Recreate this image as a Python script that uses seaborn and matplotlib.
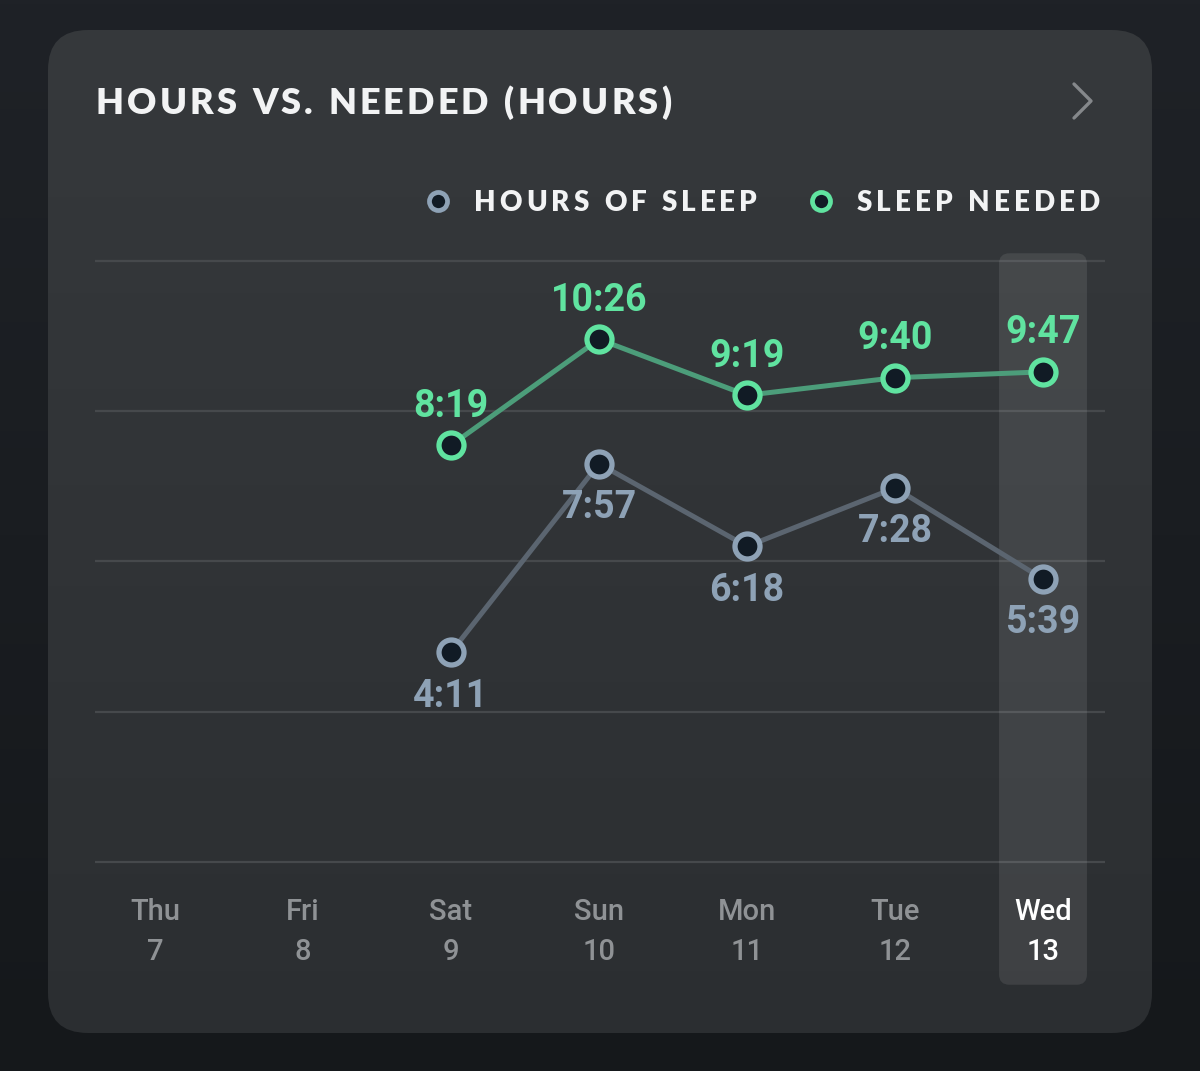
import numpy as np
import pandas as pd
import seaborn as sns
import matplotlib.pyplot as plt
from matplotlib.patches import FancyBboxPatch
from matplotlib.font_manager import FontProperties

# Chart data
days = ["Thu", "Fri", "Sat", "Sun", "Mon", "Tue", "Wed"]
dates = ["7", "8", "9", "10", "11", "12", "13"]
logged_days = ["Sat", "Sun", "Mon", "Tue", "Wed"]
hours_of_sleep = ["4:11", "7:57", "6:18", "7:28", "5:39"]
sleep_needed = ["8:19", "10:26", "9:19", "9:40", "9:47"]
y_ticks = [0, 3, 6, 9, 12]
selected_day = "Wed"

W, H, DPI = 1200, 1071, 100

# Colours
GREEN = "#60e3a0"
GREEN_LINE = "#4c9d7a"
GREY = "#8ea2b6"
GREY_LINE = "#5b6570"
DOT_FACE = "#111b25"
GRID = "#46494c"


def to_hours(s):
    h, m = s.split(":")
    return int(h) + int(m) / 60


df = pd.DataFrame({
    "pos": [days.index(d) for d in logged_days] * 2,
    "label": hours_of_sleep + sleep_needed,
    "series": ["sleep"] * len(logged_days) + ["needed"] * len(logged_days),
})
df["hours"] = df["label"].map(to_hours)

sns.set_style("white")
plt.rcParams["font.family"] = ["Roboto", "DejaVu Sans"]

fig = plt.figure(figsize=(W / DPI, H / DPI), dpi=DPI)
fig.patch.set_facecolor("#1a1d21")

# background layer in pixel coordinates
bg = fig.add_axes([0, 0, 1, 1], zorder=-5)
bg.set_xlim(0, W)
bg.set_ylim(H, 0)
bg.axis("off")

outer = np.linspace(0, 1, 256).reshape(-1, 1)
outer_cmap = sns.blend_palette(["#1f2227", "#15181b"], as_cmap=True)
bg.imshow(outer, cmap=outer_cmap, extent=(0, W, H, 0), aspect="auto")

card = FancyBboxPatch((48, 30), 1104, 1003, boxstyle="round,pad=0,rounding_size=40",
                      facecolor="none", edgecolor="none", transform=bg.transData)
bg.add_patch(card)
card_cmap = sns.blend_palette(["#36393c", "#2b2e31"], as_cmap=True)
im = bg.imshow(outer, cmap=card_cmap, extent=(0, W, H, 0), aspect="auto")
im.set_clip_path(card)


def tracked_text(x0, x1, y, s, size, color, family="Lato", weight="heavy"):
    # spread the letters so the string runs from x0 to x1 (pixels)
    r = fig.canvas.get_renderer()
    fp = FontProperties(family=family, weight=weight, size=size)
    widths = []
    for c in s:
        if c == " ":
            widths.append(0.26 * size * DPI / 72)
        else:
            widths.append(r.get_text_width_height_descent(c, fp, ismath=False)[0])
    track = (x1 - x0 - sum(widths)) / (len(s) - 1)
    x = x0
    for c, w in zip(s, widths):
        if c != " ":
            bg.text(x, y, c, fontproperties=fp, color=color, ha="left", va="baseline")
        x += w + track


tracked_text(96, 671, 114, "HOURS VS. NEEDED (HOURS)", 26, "#f2f3f4")
tracked_text(474, 757, 211, "HOURS OF SLEEP", 20, "#f2f3f4")
tracked_text(857, 1100, 211, "SLEEP NEEDED", 20, "#f2f3f4")

# legend dots
bg.plot([438], [201], marker="o", ms=13, mew=3.4, mfc=DOT_FACE, mec=GREY)
bg.plot([821], [201], marker="o", ms=13, mew=3.4, mfc=DOT_FACE, mec=GREEN)

# chevron
bg.plot([1074, 1091, 1074], [84, 101, 118], color="#85888b", lw=2.4,
        solid_capstyle="round", solid_joinstyle="round")

# main plot area
ylo, yhi = -0.1, 12.1
px_per_h = 50.1
bottom_px = 862 + 0.1 * px_per_h
top_px = 862 - 12.1 * px_per_h
ax = fig.add_axes([95 / W, (H - bottom_px) / H, 1010 / W, (bottom_px - top_px) / H])
ax.set_facecolor("none")

for series, line_c, edge_c in [("sleep", GREY_LINE, GREY), ("needed", GREEN_LINE, GREEN)]:
    sub = df[df["series"] == series]
    sns.lineplot(data=sub, x="pos", y="hours", ax=ax, color=line_c, lw=3.6,
                 marker="o", ms=18, mew=3.8, mfc=DOT_FACE, mec=edge_c, zorder=4)
    off = 31.5 if series == "sleep" else -28
    for _, row in sub.iterrows():
        ax.annotate(row["label"], (row["pos"], row["hours"]), xytext=(0, -off),
                    textcoords="offset points", ha="center", va="center",
                    fontsize=27, fontweight="bold", color=edge_c, zorder=5,
                    annotation_clip=False)

# highlighted day column
sel = days.index(selected_day)
hl = FancyBboxPatch((sel - 0.297, -2.45), 0.594, 14.6,
                    boxstyle="round,pad=0,rounding_size=0.07", mutation_aspect=148 / 50.1,
                    facecolor="white", alpha=0.09, edgecolor="none",
                    transform=ax.transData, clip_on=False, zorder=2)
ax.add_patch(hl)

ax.set_xlim(-0.405, 6.419)
ax.set_ylim(ylo, yhi)
ax.set_yticks(y_ticks)
ax.set_yticklabels([])
ax.grid(axis="y", color=GRID, lw=1.6)
ax.grid(axis="x", visible=False)
ax.set_axisbelow(True)
ax.set_xlabel("")
ax.set_ylabel("")
sns.despine(ax=ax, left=True, bottom=True)

ax.set_xticks(range(len(days)))
ax.set_xticklabels([f"{d}\n{n}" for d, n in zip(days, dates)], fontsize=21,
                   fontweight="medium", linespacing=1.55)
ax.tick_params(axis="x", length=0, pad=22)
ax.tick_params(axis="y", length=0)
for lab, d in zip(ax.get_xticklabels(), days):
    lab.set_color("#ffffff" if d == selected_day else "#8f9295")

fig.savefig("out.png", dpi=DPI, facecolor=fig.get_facecolor())
